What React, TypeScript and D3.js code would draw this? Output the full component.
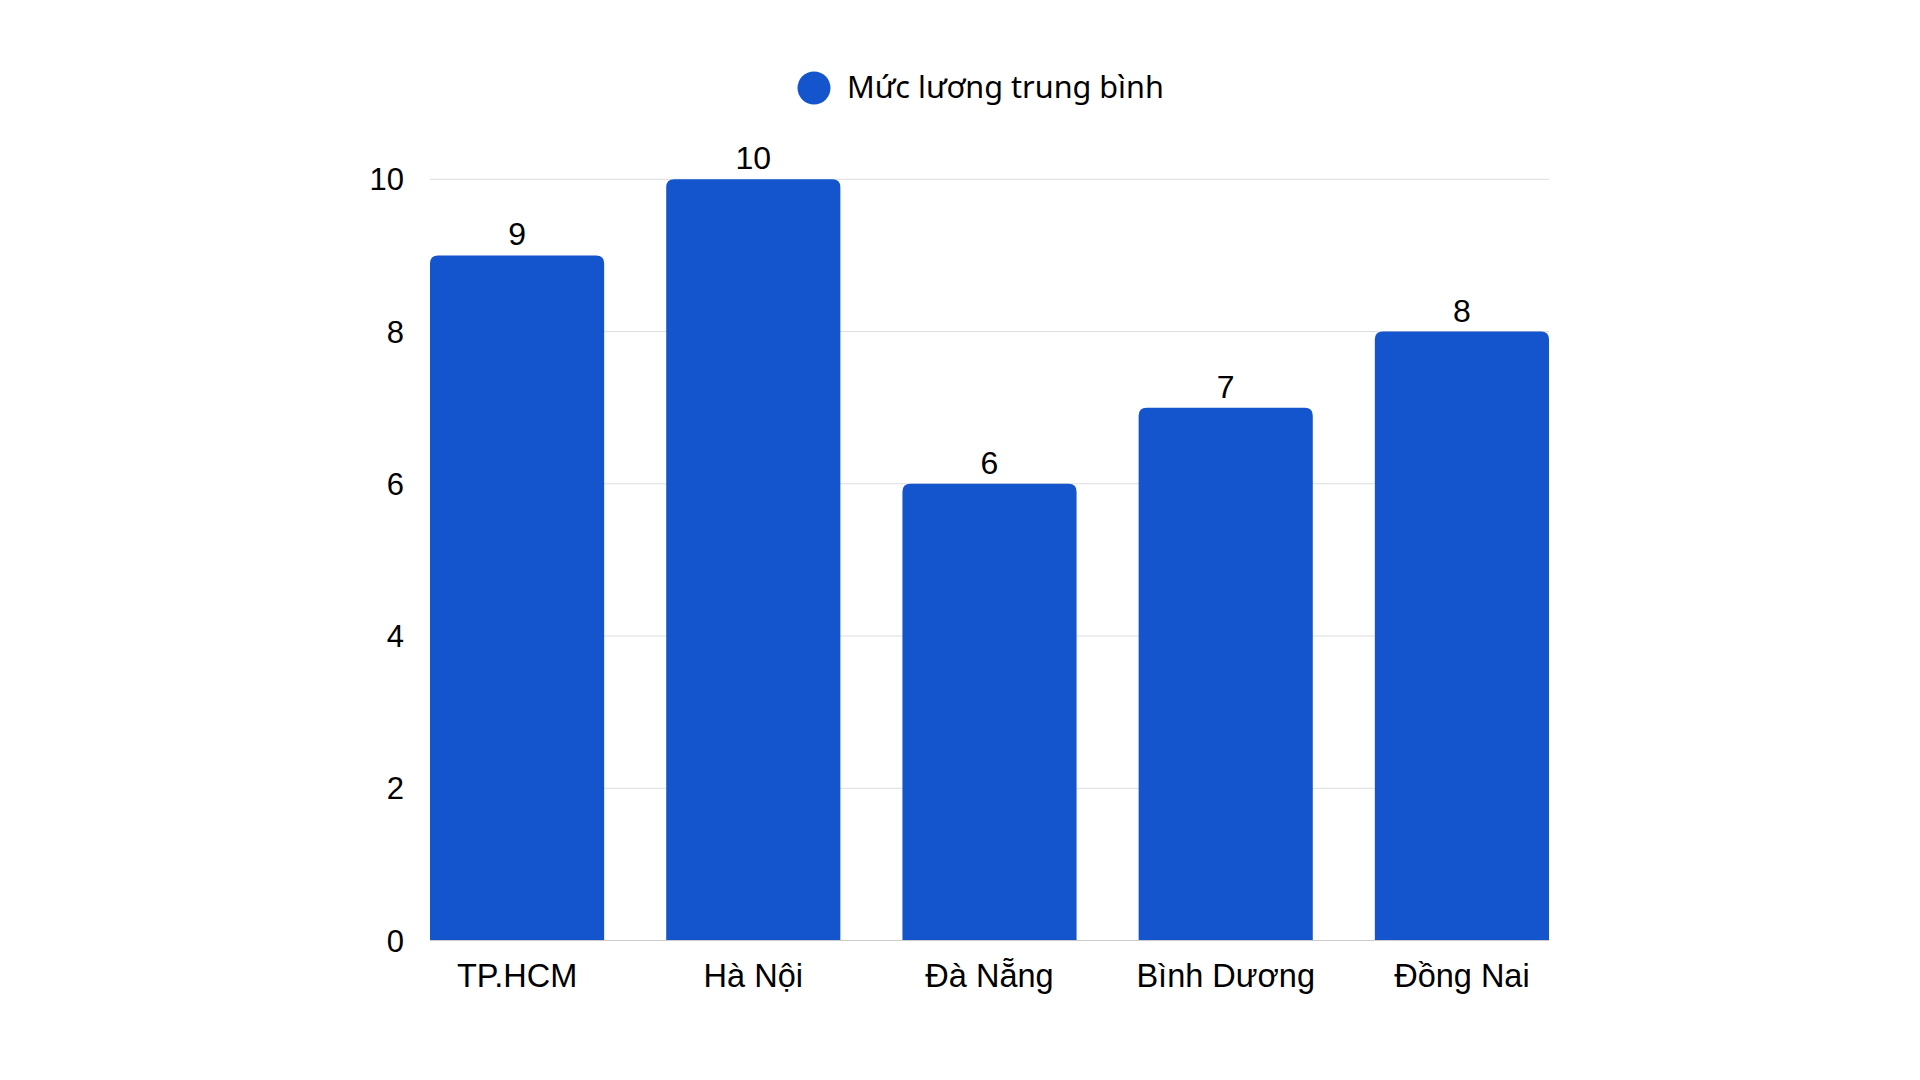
import React from "react";
import * as d3 from "d3";

const categories = ["TP.HCM", "Hà Nội", "Đà Nẵng", "Bình Dương", "Đồng Nai"];
const values = [9, 10, 6, 7, 8];
const yTicks = [0, 2, 4, 6, 8, 10];
const seriesName = "Mức lương trung bình";

const W = 1920;
const H = 1080;
const left = 430;
const right = 1549;
const top = 179.3;
const bottom = 940.5;
const barColor = "#1455CE";
const axisFont = "'Liberation Sans', Arial, sans-serif";

function topRoundedRect(x: number, y: number, w: number, h: number, r: number) {
  const rr = Math.min(r, h, w / 2);
  return `M${x},${y + h}V${y + rr}Q${x},${y} ${x + rr},${y}H${x + w - rr}Q${x + w},${y} ${x + w},${y + rr}V${y + h}Z`;
}

export default function App() {
  const x = d3.scaleBand<string>().domain(categories).range([left, right]).paddingInner(62 / 236).paddingOuter(0);
  const y = d3.scaleLinear().domain([0, 10]).range([bottom, top]);
  const bw = x.bandwidth();

  return (
    <svg width={W} height={H} style={{ position: "absolute", left: 0, top: 0, background: "#fff" }}>
      <rect width={W} height={H} fill="#fff" />
      {yTicks.map((t) => (
        <g key={t}>
          {t !== 0 && (
            <line x1={left} x2={right} y1={y(t)} y2={y(t)} stroke="#dddddd" strokeWidth={1} />
          )}
          <text
            x={404}
            y={y(t)}
            dy="0.36em"
            textAnchor="end"
            fontFamily={axisFont}
            fontSize={31}
            fill="#000"
          >
            {t}
          </text>
        </g>
      ))}
      {categories.map((c, i) => {
        const bx = x(c)!;
        const by = y(values[i]);
        return (
          <g key={c}>
            <path d={topRoundedRect(bx, by, bw, bottom - by, 8)} fill={barColor} />
            <text
              x={bx + bw / 2}
              y={by - 10}
              textAnchor="middle"
              fontFamily={axisFont}
              fontSize={32}
              fill="#000"
            >
              {values[i]}
            </text>
            <text
              x={bx + bw / 2}
              y={987}
              textAnchor="middle"
              fontFamily={axisFont}
              fontSize={32.5}
              fill="#000"
            >
              {c}
            </text>
          </g>
        );
      })}
      <line x1={left} x2={right} y1={bottom} y2={bottom} stroke="#cccccc" strokeWidth={1.2} />
      <circle cx={814} cy={88} r={16.5} fill={barColor} />
      <text x={847} y={98} fontFamily="'Noto Sans', sans-serif" fontSize={30.6} fill="#000">
        {seriesName}
      </text>
    </svg>
  );
}
